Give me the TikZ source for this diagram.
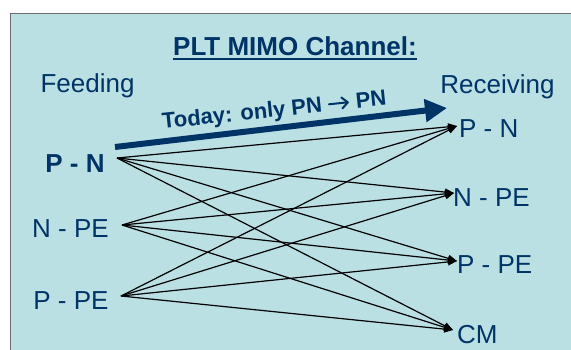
\documentclass[tikz,border=0pt]{standalone}
\usepackage{fontspec}
\setmainfont{Liberation Sans}
\usetikzlibrary{arrows.meta}
\definecolor{bgblue}{RGB}{186,224,228}
\definecolor{navy}{RGB}{0,51,102}
\definecolor{framegray}{RGB}{110,110,110}
\tikzset{
  lbl/.style={inner sep=0pt, text=navy, font=\fontsize{26}{30}\selectfont},
  lblb/.style={lbl, font=\fontsize{26}{30}\selectfont\bfseries},
  link/.style={line width=1.2pt, black, -{Triangle[length=9pt,width=7pt]}},
  bigarrow/.style={line width=6pt, navy, -{Triangle[length=22pt,width=22pt]}}
}
\newcommand{\txtarrow}{\tikz[baseline=0pt]{\draw[navy, line width=2pt, line cap=round, -{Straight Barb[length=6pt,width=11pt,round]}] (0pt,7pt) -- (20pt,7pt);}}
\begin{document}
\begin{tikzpicture}[x=1pt,y=-1pt]
\useasboundingbox (0,0) rectangle (571,349);
\path[fill=white] (0,0) rectangle (571,349);
\begin{scope}
\clip (0,0) rectangle (571,349);
\draw[fill=bgblue, draw=framegray, line width=1pt] (10,13) rectangle (580,360);
\end{scope}
% title
\node[lblb, anchor=base] (title) at (295,55) {PLT MIMO Channel:};
\draw[navy, line width=2pt] ([yshift=-4pt]title.base west) -- ([yshift=-4pt]title.base east);
% headers
\node[lbl, anchor=base] (feed) at (87.5,92) {Feeding};
\node[lbl, anchor=base] (recv) at (497.5,93) {Receiving};
% left labels
\node[lblb, anchor=base] (lpn) at (75,172) {P - N};
\node[lbl, anchor=base] (lnpe) at (70.5,237) {N - PE};
\node[lbl, anchor=base] (lppe) at (71,309) {P - PE};
% right labels
\node[lbl, anchor=base west] (rpn) at (459,137) {P - N};
\node[lbl, anchor=base west] (rnpe) at (453,206) {N - PE};
\node[lbl, anchor=base west] (rppe) at (457,273) {P - PE};
\node[lbl, anchor=base west] (rcm) at (457,343) {CM};
% connection points
\coordinate (s1) at (117,158);
\coordinate (s2) at (122,225);
\coordinate (s3) at (121,296);
\coordinate (t1) at (457,126);
\coordinate (t2) at (454,193);
\coordinate (t3) at (457,261);
\coordinate (t4) at (453,330);
\foreach \s in {s1,s2,s3}{
  \foreach \t in {t1,t2,t3,t4}{
    \draw[link] (\s) -- (\t);
  }
}
% big arrow
\coordinate (a1) at (115,147);
\coordinate (a2) at (447,108);
\draw[bigarrow] (a1) -- (a2);
\node[inner sep=0pt, text=navy, font=\fontsize{22}{26}\selectfont\bfseries, anchor=base, rotate=6] (today) at (275,117) {Today: only PN \txtarrow{} PN};
\end{tikzpicture}
\end{document}
